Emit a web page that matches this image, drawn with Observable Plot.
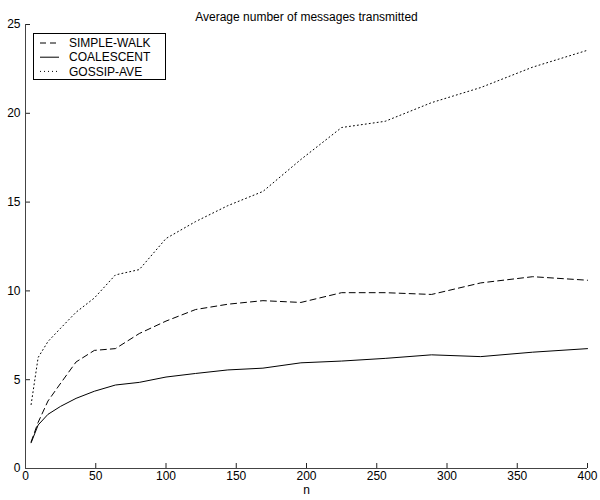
<!DOCTYPE html>
<html>
<head>
<meta charset="utf-8">
<script src="https://cdn.jsdelivr.net/npm/d3@7"></script>
<script src="https://cdn.jsdelivr.net/npm/@observablehq/plot@0.6"></script>
<style>
  body { margin: 0; background: white; }
  #chart { width: 600px; height: 500px; }
</style>
</head>
<body>
<div id="chart"></div>
<script>
const title = "Average number of messages transmitted";
const xLabel = "n";
const nValues = [4, 9, 16, 25, 36, 49, 64, 81, 100, 121, 144, 169, 196, 225, 256, 289, 324, 361, 400];
const simpleWalk = [1.5, 2.6, 3.8, 4.8, 6.0, 6.65, 6.75, 7.6, 8.3, 8.95, 9.25, 9.45, 9.35, 9.9, 9.9, 9.8, 10.45, 10.8, 10.6];
const coalescent = [1.45, 2.45, 3.05, 3.5, 3.95, 4.35, 4.7, 4.85, 5.15, 5.35, 5.55, 5.65, 5.95, 6.05, 6.2, 6.4, 6.3, 6.55, 6.75];
const gossipAve = [3.6, 6.25, 7.15, 7.9, 8.8, 9.6, 10.9, 11.2, 12.95, 13.9, 14.8, 15.6, 17.4, 19.2, 19.55, 20.6, 21.45, 22.6, 23.55];
const seriesNames = ["SIMPLE-WALK", "COALESCENT", "GOSSIP-AVE"];
const seriesDash = ["6,4", null, "1,3"];
const xTicks = [0, 50, 100, 150, 200, 250, 300, 350, 400];
const yTicks = [0, 5, 10, 15, 20, 25];

const seriesValues = [simpleWalk, coalescent, gossipAve];
const rows = [];
seriesNames.forEach((name, i) => {
  nValues.forEach((n, j) => rows.push({series: name, n, v: seriesValues[i][j]}));
});

const font = "'Liberation Sans', Arial, Helvetica, sans-serif";
const W = 600, H = 500, mL = 25, mR = 13, mT = 24, mB = 32, tick = 5;

const lineMarks = seriesNames.map((name, i) =>
  Plot.line(rows.filter(d => d.series === name), {
    x: "n", y: "v", stroke: "black", strokeWidth: 1,
    strokeDasharray: seriesDash[i] || undefined
  })
);

const svg = Plot.plot({
  width: W,
  height: H,
  marginLeft: mL,
  marginRight: mR,
  marginTop: mT,
  marginBottom: mB,
  style: {fontFamily: font, fontSize: "12px", color: "black", background: "white"},
  x: {domain: [0, 400], axis: null},
  y: {domain: [0, 25], axis: null},
  marks: [
    ...lineMarks,
    // tick labels
    Plot.text(xTicks, {x: d => d, frameAnchor: "bottom", dy: 11, fontSize: 12, fill: "black"}),
    Plot.text(yTicks, {y: d => d, frameAnchor: "left", dx: -5, textAnchor: "end", fontSize: 12, fill: "black"}),
    // inward ticks
    Plot.tickX(xTicks, {x: d => d, insetTop: H - mT - mB - tick, stroke: "#222"}),
    Plot.tickY(yTicks, {y: d => d, insetRight: W - mL - mR - tick, stroke: "#222"}),
    Plot.ruleY([0], {stroke: "#444"}),
    Plot.ruleX([0], {stroke: "#444"}),
    Plot.text([title], {frameAnchor: "top", dy: -12, fontSize: 12, fill: "black"}),
    Plot.text([xLabel], {frameAnchor: "bottom", dy: 25, fontSize: 12, fill: "black"})
  ]
});

// Legend box (inside plot, top-left)
const g = d3.select(svg).append("g")
  .attr("font-family", font).attr("font-size", 12).attr("text-anchor", "start");
g.append("rect").attr("x", 33.5).attr("y", 33.5).attr("width", 132).attr("height", 46)
  .attr("fill", "white").attr("stroke", "black").attr("stroke-width", 1);
seriesNames.forEach((name, i) => {
  const cy = 43 + i * 14.2;
  g.append("line").attr("x1", 40).attr("x2", 59).attr("y1", cy).attr("y2", cy)
    .attr("stroke", "black").attr("stroke-width", 1)
    .attr("stroke-dasharray", seriesDash[i]);
  g.append("text").attr("x", 69).attr("y", cy).attr("dy", "0.35em")
    .attr("text-anchor", "start").attr("fill", "black").text(name);
});

document.getElementById("chart").appendChild(svg);
</script>
</body>
</html>
